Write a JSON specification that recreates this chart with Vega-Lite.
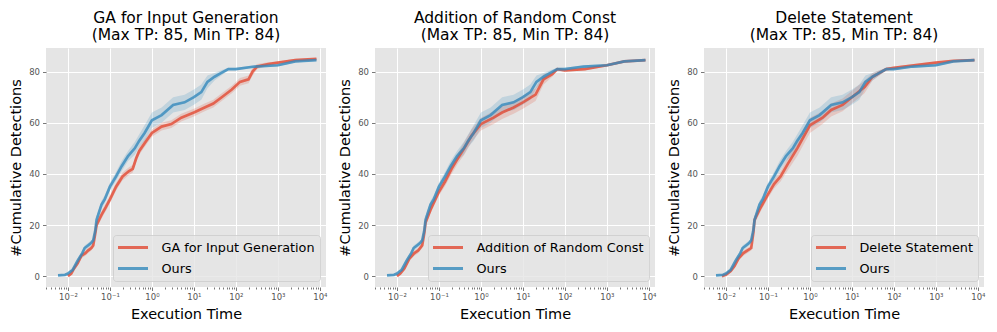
{
"$schema": "https://vega.github.io/schema/vega-lite/v6.json",
"padding": {"left": 8, "top": 11, "right": 5, "bottom": 5},
"bounds": "flush",
"spacing": 49,
"config": {
  "font": "DejaVu Sans",
  "view": {"fill": "#E5E5E5", "stroke": null},
  "title": {"fontSize": 15.5, "fontWeight": "normal", "lineHeight": 16.5, "offset": 5, "anchor": "middle", "color": "#000000"},
  "axis": {"domain": false, "gridColor": "#FFFFFF", "gridWidth": 1, "labelColor": "#555555", "labelFontSize": 8.5, "tickColor": "#555555", "tickWidth": 0.8, "titleFontSize": 14.5, "titleFontWeight": "normal", "titleColor": "#000000"},
  "legend": {"orient": "bottom-right", "offset": 6, "padding": 5, "rowPadding": 6, "labelFontSize": 12.8, "labelColor": "#000000", "labelOffset": 21, "labelLimit": 300, "symbolType": "M-2.5,0H2.5", "symbolSize": 144, "symbolOffset": 7.5, "symbolStrokeWidth": 3, "symbolOpacity": 0.8, "fillColor": "rgba(229,229,229,0.8)", "strokeColor": "rgba(204,204,204,0.8)", "cornerRadius": 3, "title": null}
},
"resolve": {"scale": {"color": "independent"}, "legend": {"color": "independent"}},
"hconcat": [
 {
  "title": {"text": ["GA for Input Generation", "(Max TP: 85, Min TP: 84)"]},
  "width": 280, "height": 239,
  "data": {"values": [
   {"s":"GA for Input Generation","t":0.01,"m":0,"lo":0,"hi":0.5},
   {"s":"GA for Input Generation","t":0.012,"m":1,"lo":0.5,"hi":1.5},
   {"s":"GA for Input Generation","t":0.014,"m":3,"lo":2.3,"hi":3.7},
   {"s":"GA for Input Generation","t":0.017,"m":5,"lo":4.2,"hi":5.8},
   {"s":"GA for Input Generation","t":0.021,"m":8,"lo":7,"hi":9},
   {"s":"GA for Input Generation","t":0.026,"m":9,"lo":8,"hi":10},
   {"s":"GA for Input Generation","t":0.03,"m":10,"lo":9,"hi":11},
   {"s":"GA for Input Generation","t":0.036,"m":11,"lo":10,"hi":12},
   {"s":"GA for Input Generation","t":0.04,"m":12,"lo":11,"hi":13},
   {"s":"GA for Input Generation","t":0.045,"m":17,"lo":15.5,"hi":18.5},
   {"s":"GA for Input Generation","t":0.048,"m":20,"lo":18.5,"hi":21.5},
   {"s":"GA for Input Generation","t":0.055,"m":22,"lo":20.5,"hi":23.5},
   {"s":"GA for Input Generation","t":0.063,"m":24,"lo":22.5,"hi":25.5},
   {"s":"GA for Input Generation","t":0.08,"m":27,"lo":25.5,"hi":28.5},
   {"s":"GA for Input Generation","t":0.1,"m":30,"lo":28.5,"hi":31.5},
   {"s":"GA for Input Generation","t":0.14,"m":35,"lo":33.5,"hi":36.5},
   {"s":"GA for Input Generation","t":0.2,"m":39,"lo":37.5,"hi":40.5},
   {"s":"GA for Input Generation","t":0.28,"m":41,"lo":39.5,"hi":42.5},
   {"s":"GA for Input Generation","t":0.35,"m":42,"lo":40.5,"hi":43.5},
   {"s":"GA for Input Generation","t":0.42,"m":46,"lo":44.5,"hi":47.5},
   {"s":"GA for Input Generation","t":0.5,"m":49,"lo":47.5,"hi":50.5},
   {"s":"GA for Input Generation","t":0.67,"m":52,"lo":50.5,"hi":53.5},
   {"s":"GA for Input Generation","t":1,"m":56,"lo":54.5,"hi":57.5},
   {"s":"GA for Input Generation","t":1.7,"m":58.5,"lo":57,"hi":60},
   {"s":"GA for Input Generation","t":2.9,"m":59.5,"lo":58,"hi":61},
   {"s":"GA for Input Generation","t":5,"m":62,"lo":60.5,"hi":63.5},
   {"s":"GA for Input Generation","t":10,"m":64,"lo":62.5,"hi":65.5},
   {"s":"GA for Input Generation","t":18,"m":66,"lo":64.5,"hi":67.5},
   {"s":"GA for Input Generation","t":29,"m":67.5,"lo":66,"hi":69},
   {"s":"GA for Input Generation","t":46,"m":70,"lo":68.5,"hi":71.5},
   {"s":"GA for Input Generation","t":80,"m":73,"lo":71.5,"hi":74.5},
   {"s":"GA for Input Generation","t":125,"m":76,"lo":74.5,"hi":77.5},
   {"s":"GA for Input Generation","t":200,"m":77,"lo":75.5,"hi":78.5},
   {"s":"GA for Input Generation","t":250,"m":80,"lo":78.5,"hi":81.5},
   {"s":"GA for Input Generation","t":320,"m":82,"lo":81,"hi":83},
   {"s":"GA for Input Generation","t":590,"m":83,"lo":82.3,"hi":83.7},
   {"s":"GA for Input Generation","t":1000,"m":83.5,"lo":83,"hi":84},
   {"s":"GA for Input Generation","t":2600,"m":84.5,"lo":84,"hi":85},
   {"s":"GA for Input Generation","t":8300,"m":85,"lo":84.7,"hi":85.3},
   {"s":"Ours","t":0.0058,"m":0.3,"lo":0,"hi":0.6},
   {"s":"Ours","t":0.0085,"m":0.5,"lo":0.2,"hi":0.8},
   {"s":"Ours","t":0.01,"m":1,"lo":0.5,"hi":1.5},
   {"s":"Ours","t":0.013,"m":2.5,"lo":1.8,"hi":3.2},
   {"s":"Ours","t":0.017,"m":6,"lo":5,"hi":7},
   {"s":"Ours","t":0.022,"m":9,"lo":8,"hi":10},
   {"s":"Ours","t":0.025,"m":11,"lo":10,"hi":12},
   {"s":"Ours","t":0.03,"m":12,"lo":11,"hi":13},
   {"s":"Ours","t":0.036,"m":13,"lo":12,"hi":14},
   {"s":"Ours","t":0.04,"m":14,"lo":13,"hi":15},
   {"s":"Ours","t":0.045,"m":18,"lo":16.5,"hi":19.5},
   {"s":"Ours","t":0.048,"m":22,"lo":20.5,"hi":23.5},
   {"s":"Ours","t":0.055,"m":25,"lo":23.5,"hi":26.5},
   {"s":"Ours","t":0.063,"m":28,"lo":26.5,"hi":29.5},
   {"s":"Ours","t":0.075,"m":30,"lo":28.5,"hi":31.5},
   {"s":"Ours","t":0.1,"m":35,"lo":33.5,"hi":36.5},
   {"s":"Ours","t":0.14,"m":39,"lo":37.3,"hi":40.7},
   {"s":"Ours","t":0.19,"m":43,"lo":41,"hi":45},
   {"s":"Ours","t":0.27,"m":47,"lo":45,"hi":49},
   {"s":"Ours","t":0.39,"m":50,"lo":47.5,"hi":52.5},
   {"s":"Ours","t":0.5,"m":53,"lo":50.5,"hi":55.5},
   {"s":"Ours","t":0.67,"m":56,"lo":53,"hi":59},
   {"s":"Ours","t":1,"m":61,"lo":58,"hi":64},
   {"s":"Ours","t":1.7,"m":63,"lo":60,"hi":66},
   {"s":"Ours","t":3.2,"m":67,"lo":64,"hi":70},
   {"s":"Ours","t":6,"m":68,"lo":65,"hi":71},
   {"s":"Ours","t":10,"m":70,"lo":67,"hi":73},
   {"s":"Ours","t":15,"m":72,"lo":69,"hi":75},
   {"s":"Ours","t":21,"m":76,"lo":73.5,"hi":78.5},
   {"s":"Ours","t":31,"m":78,"lo":76.5,"hi":79.5},
   {"s":"Ours","t":45,"m":79.5,"lo":78.5,"hi":80.5},
   {"s":"Ours","t":66,"m":81,"lo":80.5,"hi":81.5},
   {"s":"Ours","t":100,"m":81,"lo":80.5,"hi":81.5},
   {"s":"Ours","t":280,"m":82,"lo":81.5,"hi":82.5},
   {"s":"Ours","t":1000,"m":82.5,"lo":82,"hi":83},
   {"s":"Ours","t":2600,"m":84,"lo":83.6,"hi":84.4},
   {"s":"Ours","t":8300,"m":84.5,"lo":84.2,"hi":84.8}
  ]},
  "encoding": {
   "x": {"field": "t", "type": "quantitative", "title": "Execution Time",
     "scale": {"type": "log", "domain": [0.003, 14000], "nice": false},
     "axis": {"values": [0.003,0.004,0.005,0.006,0.007,0.008,0.009,0.01,0.02,0.03,0.04,0.05,0.06,0.07,0.08,0.09,0.1,0.2,0.3,0.4,0.5,0.6,0.7,0.8,0.9,1,2,3,4,5,6,7,8,9,10,20,30,40,50,60,70,80,90,100,200,300,400,500,600,700,800,900,1000,2000,3000,4000,5000,6000,7000,8000,9000,10000],
       "labelOverlap": false, "labelPadding": 2, "titlePadding": 6,
       "labelExpr": "datum.value == 0.01 ? '10⁻²' : datum.value == 0.1 ? '10⁻¹' : datum.value == 1 ? '10⁰' : datum.value == 10 ? '10¹' : datum.value == 100 ? '10²' : datum.value == 1000 ? '10³' : datum.value == 10000 ? '10⁴' : ''",
       "tickSize": {"condition": {"test": "indexof([0.01,0.1,1,10,100,1000,10000], datum.value) >= 0", "value": 3.5}, "value": 2},
       "gridOpacity": {"condition": {"test": "indexof([0.01,0.1,1,10,100,1000,10000], datum.value) >= 0", "value": 1}, "value": 0}}},
   "y": {"field": "m", "type": "quantitative", "title": "#Cumulative Detections",
     "scale": {"domain": [-4.25, 89.25], "nice": false, "zero": false},
     "axis": {"values": [0, 20, 40, 60, 80], "tickSize": 3.5, "labelPadding": 3, "titlePadding": 5}},
   "color": {"field": "s", "type": "nominal", "scale": {"domain": ["GA for Input Generation", "Ours"], "range": ["#E24A33", "#348ABD"]}}
  },
  "layer": [
   {"mark": {"type": "area", "opacity": 0.2},
    "encoding": {"y": {"field": "lo", "type": "quantitative"}, "y2": {"field": "hi"}}},
   {"mark": {"type": "line", "strokeWidth": 2.7, "opacity": 0.8}}
  ]
 },
 {
  "title": {"text": ["Addition of Random Const", "(Max TP: 85, Min TP: 84)"]},
  "width": 280, "height": 239,
  "data": {"values": [
   {"s":"Addition of Random Const","t":0.01,"m":0,"lo":0,"hi":0.5},
   {"s":"Addition of Random Const","t":0.012,"m":1,"lo":0.5,"hi":1.5},
   {"s":"Addition of Random Const","t":0.015,"m":3,"lo":2.2,"hi":3.8},
   {"s":"Addition of Random Const","t":0.02,"m":7,"lo":6,"hi":8},
   {"s":"Addition of Random Const","t":0.026,"m":9,"lo":8,"hi":10},
   {"s":"Addition of Random Const","t":0.032,"m":10,"lo":9,"hi":11},
   {"s":"Addition of Random Const","t":0.04,"m":12,"lo":11,"hi":13},
   {"s":"Addition of Random Const","t":0.045,"m":17,"lo":15.5,"hi":18.5},
   {"s":"Addition of Random Const","t":0.048,"m":21,"lo":19.5,"hi":22.5},
   {"s":"Addition of Random Const","t":0.063,"m":26,"lo":24.5,"hi":27.5},
   {"s":"Addition of Random Const","t":0.1,"m":33,"lo":31.5,"hi":34.5},
   {"s":"Addition of Random Const","t":0.14,"m":37,"lo":35.3,"hi":38.7},
   {"s":"Addition of Random Const","t":0.2,"m":42,"lo":40,"hi":44},
   {"s":"Addition of Random Const","t":0.28,"m":46,"lo":44,"hi":48},
   {"s":"Addition of Random Const","t":0.4,"m":50,"lo":47.5,"hi":52.5},
   {"s":"Addition of Random Const","t":0.6,"m":55,"lo":52.5,"hi":57.5},
   {"s":"Addition of Random Const","t":1,"m":59.5,"lo":57,"hi":62},
   {"s":"Addition of Random Const","t":2,"m":62,"lo":59.5,"hi":64.5},
   {"s":"Addition of Random Const","t":3.2,"m":64,"lo":61.5,"hi":66.5},
   {"s":"Addition of Random Const","t":6,"m":66,"lo":63.5,"hi":68.5},
   {"s":"Addition of Random Const","t":10,"m":68,"lo":65.5,"hi":70.5},
   {"s":"Addition of Random Const","t":20,"m":71,"lo":68.5,"hi":73.5},
   {"s":"Addition of Random Const","t":31,"m":77,"lo":75,"hi":79},
   {"s":"Addition of Random Const","t":50,"m":79,"lo":78,"hi":80},
   {"s":"Addition of Random Const","t":66,"m":81,"lo":80.5,"hi":81.5},
   {"s":"Addition of Random Const","t":100,"m":80.5,"lo":80,"hi":81},
   {"s":"Addition of Random Const","t":300,"m":81,"lo":80.5,"hi":81.5},
   {"s":"Addition of Random Const","t":1000,"m":82.5,"lo":82,"hi":83},
   {"s":"Addition of Random Const","t":2600,"m":84,"lo":83.6,"hi":84.4},
   {"s":"Addition of Random Const","t":8300,"m":84.5,"lo":84.2,"hi":84.8},
   {"s":"Ours","t":0.0058,"m":0.3,"lo":0,"hi":0.6},
   {"s":"Ours","t":0.0085,"m":0.5,"lo":0.2,"hi":0.8},
   {"s":"Ours","t":0.01,"m":1,"lo":0.5,"hi":1.5},
   {"s":"Ours","t":0.013,"m":2.5,"lo":1.8,"hi":3.2},
   {"s":"Ours","t":0.017,"m":6,"lo":5,"hi":7},
   {"s":"Ours","t":0.022,"m":9,"lo":8,"hi":10},
   {"s":"Ours","t":0.025,"m":11,"lo":10,"hi":12},
   {"s":"Ours","t":0.03,"m":12,"lo":11,"hi":13},
   {"s":"Ours","t":0.036,"m":13,"lo":12,"hi":14},
   {"s":"Ours","t":0.04,"m":14,"lo":13,"hi":15},
   {"s":"Ours","t":0.045,"m":18,"lo":16.5,"hi":19.5},
   {"s":"Ours","t":0.048,"m":22,"lo":20.5,"hi":23.5},
   {"s":"Ours","t":0.055,"m":25,"lo":23.5,"hi":26.5},
   {"s":"Ours","t":0.063,"m":28,"lo":26.5,"hi":29.5},
   {"s":"Ours","t":0.075,"m":30,"lo":28.5,"hi":31.5},
   {"s":"Ours","t":0.1,"m":35,"lo":33.5,"hi":36.5},
   {"s":"Ours","t":0.14,"m":39,"lo":37.3,"hi":40.7},
   {"s":"Ours","t":0.19,"m":43,"lo":41,"hi":45},
   {"s":"Ours","t":0.27,"m":47,"lo":45,"hi":49},
   {"s":"Ours","t":0.39,"m":50,"lo":47.5,"hi":52.5},
   {"s":"Ours","t":0.5,"m":53,"lo":50.5,"hi":55.5},
   {"s":"Ours","t":0.67,"m":56,"lo":53,"hi":59},
   {"s":"Ours","t":1,"m":61,"lo":58,"hi":64},
   {"s":"Ours","t":1.7,"m":63,"lo":60,"hi":66},
   {"s":"Ours","t":3.2,"m":67,"lo":64,"hi":70},
   {"s":"Ours","t":6,"m":68,"lo":65,"hi":71},
   {"s":"Ours","t":10,"m":70,"lo":67,"hi":73},
   {"s":"Ours","t":15,"m":72,"lo":69,"hi":75},
   {"s":"Ours","t":21,"m":76,"lo":73.5,"hi":78.5},
   {"s":"Ours","t":31,"m":78,"lo":76.5,"hi":79.5},
   {"s":"Ours","t":45,"m":79.5,"lo":78.5,"hi":80.5},
   {"s":"Ours","t":66,"m":81,"lo":80.5,"hi":81.5},
   {"s":"Ours","t":100,"m":81,"lo":80.5,"hi":81.5},
   {"s":"Ours","t":280,"m":82,"lo":81.5,"hi":82.5},
   {"s":"Ours","t":1000,"m":82.5,"lo":82,"hi":83},
   {"s":"Ours","t":2600,"m":84,"lo":83.6,"hi":84.4},
   {"s":"Ours","t":8300,"m":84.5,"lo":84.2,"hi":84.8}
  ]},
  "encoding": {
   "x": {"field": "t", "type": "quantitative", "title": "Execution Time",
     "scale": {"type": "log", "domain": [0.003, 14000], "nice": false},
     "axis": {"values": [0.003,0.004,0.005,0.006,0.007,0.008,0.009,0.01,0.02,0.03,0.04,0.05,0.06,0.07,0.08,0.09,0.1,0.2,0.3,0.4,0.5,0.6,0.7,0.8,0.9,1,2,3,4,5,6,7,8,9,10,20,30,40,50,60,70,80,90,100,200,300,400,500,600,700,800,900,1000,2000,3000,4000,5000,6000,7000,8000,9000,10000],
       "labelOverlap": false, "labelPadding": 2, "titlePadding": 6,
       "labelExpr": "datum.value == 0.01 ? '10⁻²' : datum.value == 0.1 ? '10⁻¹' : datum.value == 1 ? '10⁰' : datum.value == 10 ? '10¹' : datum.value == 100 ? '10²' : datum.value == 1000 ? '10³' : datum.value == 10000 ? '10⁴' : ''",
       "tickSize": {"condition": {"test": "indexof([0.01,0.1,1,10,100,1000,10000], datum.value) >= 0", "value": 3.5}, "value": 2},
       "gridOpacity": {"condition": {"test": "indexof([0.01,0.1,1,10,100,1000,10000], datum.value) >= 0", "value": 1}, "value": 0}}},
   "y": {"field": "m", "type": "quantitative", "title": "#Cumulative Detections",
     "scale": {"domain": [-4.25, 89.25], "nice": false, "zero": false},
     "axis": {"values": [0, 20, 40, 60, 80], "tickSize": 3.5, "labelPadding": 3, "titlePadding": 5}},
   "color": {"field": "s", "type": "nominal", "scale": {"domain": ["Addition of Random Const", "Ours"], "range": ["#E24A33", "#348ABD"]}}
  },
  "layer": [
   {"mark": {"type": "area", "opacity": 0.2},
    "encoding": {"y": {"field": "lo", "type": "quantitative"}, "y2": {"field": "hi"}}},
   {"mark": {"type": "line", "strokeWidth": 2.7, "opacity": 0.8}}
  ]
 },
 {
  "title": {"text": ["Delete Statement", "(Max TP: 85, Min TP: 84)"]},
  "width": 280, "height": 239,
  "data": {"values": [
   {"s":"Delete Statement","t":0.008,"m":0,"lo":0,"hi":0.4},
   {"s":"Delete Statement","t":0.01,"m":0.5,"lo":0.1,"hi":0.9},
   {"s":"Delete Statement","t":0.013,"m":2,"lo":1.4,"hi":2.6},
   {"s":"Delete Statement","t":0.016,"m":4,"lo":3.2,"hi":4.8},
   {"s":"Delete Statement","t":0.02,"m":7,"lo":6,"hi":8},
   {"s":"Delete Statement","t":0.026,"m":9,"lo":8,"hi":10},
   {"s":"Delete Statement","t":0.032,"m":10,"lo":9,"hi":11},
   {"s":"Delete Statement","t":0.04,"m":11,"lo":10,"hi":12},
   {"s":"Delete Statement","t":0.045,"m":17,"lo":15.5,"hi":18.5},
   {"s":"Delete Statement","t":0.048,"m":22,"lo":20.5,"hi":23.5},
   {"s":"Delete Statement","t":0.063,"m":26,"lo":24.5,"hi":27.5},
   {"s":"Delete Statement","t":0.1,"m":32,"lo":30.5,"hi":33.5},
   {"s":"Delete Statement","t":0.14,"m":36,"lo":34.3,"hi":37.7},
   {"s":"Delete Statement","t":0.2,"m":39,"lo":37,"hi":41},
   {"s":"Delete Statement","t":0.3,"m":44,"lo":41.5,"hi":46.5},
   {"s":"Delete Statement","t":0.5,"m":50,"lo":47,"hi":53},
   {"s":"Delete Statement","t":1,"m":59,"lo":56,"hi":62},
   {"s":"Delete Statement","t":2,"m":62,"lo":59.5,"hi":64.5},
   {"s":"Delete Statement","t":3.2,"m":65,"lo":62.5,"hi":67.5},
   {"s":"Delete Statement","t":6,"m":67,"lo":64.5,"hi":69.5},
   {"s":"Delete Statement","t":10,"m":70,"lo":67.5,"hi":72.5},
   {"s":"Delete Statement","t":20,"m":74,"lo":71.5,"hi":76.5},
   {"s":"Delete Statement","t":31,"m":78,"lo":76.5,"hi":79.5},
   {"s":"Delete Statement","t":66,"m":81,"lo":80.5,"hi":81.5},
   {"s":"Delete Statement","t":100,"m":81.5,"lo":81,"hi":82},
   {"s":"Delete Statement","t":300,"m":82.5,"lo":82,"hi":83},
   {"s":"Delete Statement","t":1000,"m":83.5,"lo":83,"hi":84},
   {"s":"Delete Statement","t":2600,"m":84.2,"lo":83.8,"hi":84.6},
   {"s":"Delete Statement","t":8300,"m":84.5,"lo":84.2,"hi":84.8},
   {"s":"Ours","t":0.0058,"m":0.3,"lo":0,"hi":0.6},
   {"s":"Ours","t":0.0085,"m":0.5,"lo":0.2,"hi":0.8},
   {"s":"Ours","t":0.01,"m":1,"lo":0.5,"hi":1.5},
   {"s":"Ours","t":0.013,"m":2.5,"lo":1.8,"hi":3.2},
   {"s":"Ours","t":0.017,"m":6,"lo":5,"hi":7},
   {"s":"Ours","t":0.022,"m":9,"lo":8,"hi":10},
   {"s":"Ours","t":0.025,"m":11,"lo":10,"hi":12},
   {"s":"Ours","t":0.03,"m":12,"lo":11,"hi":13},
   {"s":"Ours","t":0.036,"m":13,"lo":12,"hi":14},
   {"s":"Ours","t":0.04,"m":14,"lo":13,"hi":15},
   {"s":"Ours","t":0.045,"m":18,"lo":16.5,"hi":19.5},
   {"s":"Ours","t":0.048,"m":22,"lo":20.5,"hi":23.5},
   {"s":"Ours","t":0.055,"m":25,"lo":23.5,"hi":26.5},
   {"s":"Ours","t":0.063,"m":28,"lo":26.5,"hi":29.5},
   {"s":"Ours","t":0.075,"m":30,"lo":28.5,"hi":31.5},
   {"s":"Ours","t":0.1,"m":35,"lo":33.5,"hi":36.5},
   {"s":"Ours","t":0.14,"m":39,"lo":37.3,"hi":40.7},
   {"s":"Ours","t":0.19,"m":43,"lo":41,"hi":45},
   {"s":"Ours","t":0.27,"m":47,"lo":45,"hi":49},
   {"s":"Ours","t":0.39,"m":50,"lo":47.5,"hi":52.5},
   {"s":"Ours","t":0.5,"m":53,"lo":50.5,"hi":55.5},
   {"s":"Ours","t":0.67,"m":56,"lo":53,"hi":59},
   {"s":"Ours","t":1,"m":61,"lo":58,"hi":64},
   {"s":"Ours","t":1.7,"m":63,"lo":60,"hi":66},
   {"s":"Ours","t":3.2,"m":67,"lo":64,"hi":70},
   {"s":"Ours","t":6,"m":68,"lo":65,"hi":71},
   {"s":"Ours","t":10,"m":70,"lo":67,"hi":73},
   {"s":"Ours","t":15,"m":72,"lo":69,"hi":75},
   {"s":"Ours","t":21,"m":76,"lo":73.5,"hi":78.5},
   {"s":"Ours","t":31,"m":78,"lo":76.5,"hi":79.5},
   {"s":"Ours","t":45,"m":79.5,"lo":78.5,"hi":80.5},
   {"s":"Ours","t":66,"m":81,"lo":80.5,"hi":81.5},
   {"s":"Ours","t":100,"m":81,"lo":80.5,"hi":81.5},
   {"s":"Ours","t":280,"m":82,"lo":81.5,"hi":82.5},
   {"s":"Ours","t":1000,"m":82.5,"lo":82,"hi":83},
   {"s":"Ours","t":2600,"m":84,"lo":83.6,"hi":84.4},
   {"s":"Ours","t":8300,"m":84.5,"lo":84.2,"hi":84.8}
  ]},
  "encoding": {
   "x": {"field": "t", "type": "quantitative", "title": "Execution Time",
     "scale": {"type": "log", "domain": [0.003, 14000], "nice": false},
     "axis": {"values": [0.003,0.004,0.005,0.006,0.007,0.008,0.009,0.01,0.02,0.03,0.04,0.05,0.06,0.07,0.08,0.09,0.1,0.2,0.3,0.4,0.5,0.6,0.7,0.8,0.9,1,2,3,4,5,6,7,8,9,10,20,30,40,50,60,70,80,90,100,200,300,400,500,600,700,800,900,1000,2000,3000,4000,5000,6000,7000,8000,9000,10000],
       "labelOverlap": false, "labelPadding": 2, "titlePadding": 6,
       "labelExpr": "datum.value == 0.01 ? '10⁻²' : datum.value == 0.1 ? '10⁻¹' : datum.value == 1 ? '10⁰' : datum.value == 10 ? '10¹' : datum.value == 100 ? '10²' : datum.value == 1000 ? '10³' : datum.value == 10000 ? '10⁴' : ''",
       "tickSize": {"condition": {"test": "indexof([0.01,0.1,1,10,100,1000,10000], datum.value) >= 0", "value": 3.5}, "value": 2},
       "gridOpacity": {"condition": {"test": "indexof([0.01,0.1,1,10,100,1000,10000], datum.value) >= 0", "value": 1}, "value": 0}}},
   "y": {"field": "m", "type": "quantitative", "title": "#Cumulative Detections",
     "scale": {"domain": [-4.25, 89.25], "nice": false, "zero": false},
     "axis": {"values": [0, 20, 40, 60, 80], "tickSize": 3.5, "labelPadding": 3, "titlePadding": 5}},
   "color": {"field": "s", "type": "nominal", "scale": {"domain": ["Delete Statement", "Ours"], "range": ["#E24A33", "#348ABD"]}}
  },
  "layer": [
   {"mark": {"type": "area", "opacity": 0.2},
    "encoding": {"y": {"field": "lo", "type": "quantitative"}, "y2": {"field": "hi"}}},
   {"mark": {"type": "line", "strokeWidth": 2.7, "opacity": 0.8}}
  ]
 }
]
}
